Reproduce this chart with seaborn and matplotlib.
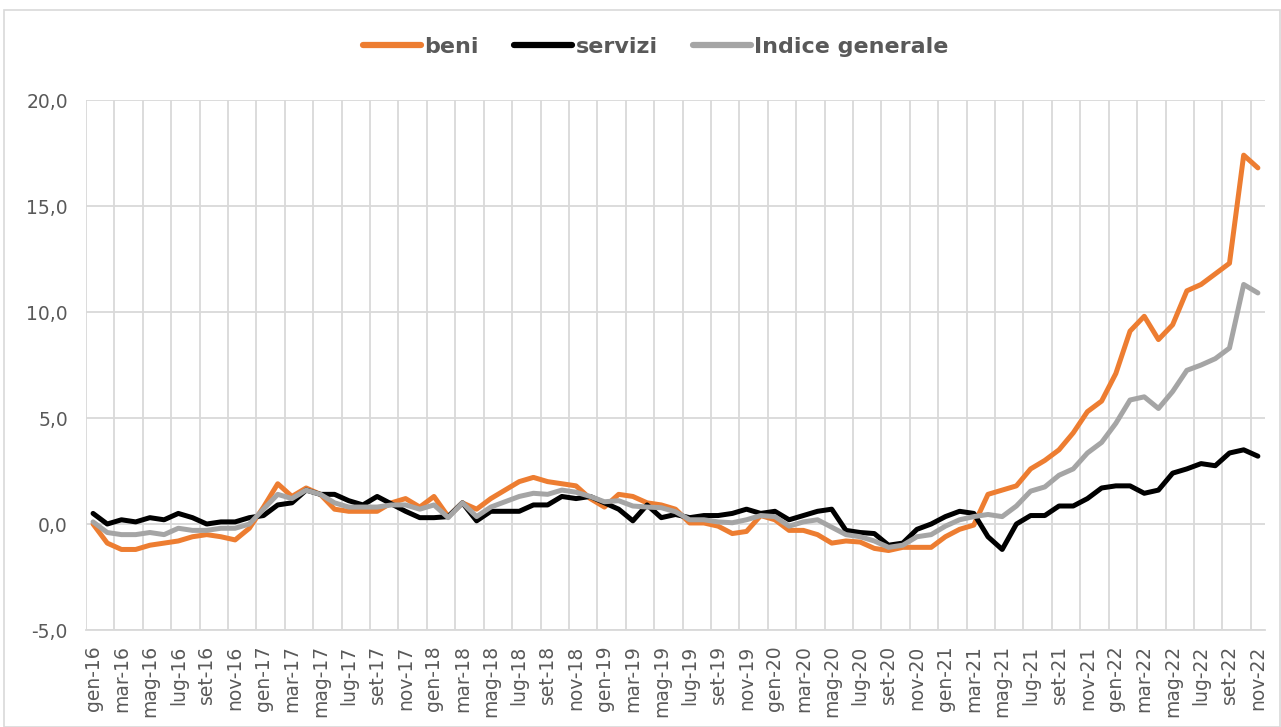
import numpy as np
import pandas as pd
import matplotlib
matplotlib.use("Agg")
import matplotlib.pyplot as plt
import seaborn as sns
from matplotlib.ticker import FixedLocator, FuncFormatter

# monthly labels gen-16 .. nov-22
mesi = ["gen", "feb", "mar", "apr", "mag", "giu", "lug", "ago", "set", "ott", "nov", "dic"]
periodi = [f"{m}-{a}" for a in range(16, 23) for m in mesi][:83]

beni = [0.0, -0.9, -1.2, -1.2, -1.0, -0.9, -0.8, -0.6, -0.5, -0.6, -0.75, -0.2,
        0.8, 1.9, 1.3, 1.7, 1.4, 0.7, 0.6, 0.6, 0.6, 1.0, 1.2, 0.8,
        1.3, 0.35, 1.0, 0.7, 1.2, 1.6, 2.0, 2.2, 2.0, 1.9, 1.8, 1.2,
        0.8, 1.4, 1.3, 1.0, 0.9, 0.7, 0.05, 0.05, -0.1, -0.45, -0.35, 0.4,
        0.2, -0.3, -0.3, -0.5, -0.9, -0.8, -0.85, -1.15, -1.25, -1.1, -1.1, -1.1,
        -0.6, -0.25, -0.05, 1.4, 1.6, 1.8, 2.6, 3.0, 3.5, 4.3, 5.3, 5.8,
        7.1, 9.1, 9.8, 8.7, 9.4, 11.0, 11.3, 11.8, 12.3, 17.4, 16.8]

servizi = [0.5, 0.0, 0.2, 0.1, 0.3, 0.2, 0.5, 0.3, 0.0, 0.1, 0.1, 0.3,
           0.4, 0.9, 1.0, 1.6, 1.4, 1.4, 1.1, 0.9, 1.3, 0.95, 0.6, 0.3,
           0.3, 0.35, 1.0, 0.15, 0.6, 0.6, 0.6, 0.9, 0.9, 1.3, 1.2, 1.3,
           1.0, 0.7, 0.15, 0.9, 0.3, 0.45, 0.3, 0.4, 0.4, 0.5, 0.7, 0.5,
           0.6, 0.2, 0.4, 0.6, 0.7, -0.3, -0.4, -0.45, -1.0, -0.9, -0.25, 0.0,
           0.35, 0.6, 0.5, -0.6, -1.2, 0.0, 0.4, 0.4, 0.85, 0.85, 1.2, 1.7,
           1.8, 1.8, 1.45, 1.6, 2.4, 2.6, 2.85, 2.75, 3.35, 3.5, 3.2]

indice = [0.1, -0.4, -0.5, -0.5, -0.4, -0.5, -0.2, -0.3, -0.3, -0.2, -0.2, 0.0,
          0.7, 1.4, 1.2, 1.6, 1.4, 1.0, 0.8, 0.8, 0.8, 0.9, 0.9, 0.7,
          0.9, 0.3, 1.0, 0.35, 0.8, 1.05, 1.3, 1.45, 1.4, 1.6, 1.5, 1.3,
          1.05, 1.1, 0.85, 0.8, 0.77, 0.58, 0.2, 0.2, 0.1, 0.06, 0.2, 0.4,
          0.35, -0.1, 0.1, 0.2, -0.15, -0.5, -0.6, -0.8, -1.1, -1.0, -0.6, -0.5,
          -0.1, 0.2, 0.35, 0.45, 0.35, 0.85, 1.55, 1.75, 2.3, 2.6, 3.35, 3.85,
          4.75, 5.85, 6.0, 5.45, 6.25, 7.25, 7.5, 7.8, 8.3, 11.3, 10.9]

serie = ["beni", "servizi", "Indice generale"]
colori = ["#ED7D31", "#000000", "#A5A5A5"]

df = pd.DataFrame({"pos": range(len(periodi)), "beni": beni,
                   "servizi": servizi, "Indice generale": indice})
long = df.melt(id_vars="pos", value_vars=serie, var_name="serie", value_name="valore")

sns.set_style("white")
plt.rcParams['font.family'] = ['DejaVu Sans']

fig = plt.figure(figsize=(12.81, 7.27), dpi=100)
ax = fig.add_axes([0.0671, 0.1334, 0.9204, 0.729])

sns.lineplot(data=long, x="pos", y="valore", hue="serie", hue_order=serie,
             palette=colori, linewidth=3.6, ax=ax, legend=False)

ax.set_xlim(-0.5, len(periodi) - 0.5)
ax.set_ylim(-5, 20)
ax.set_yticks([-5, 0, 5, 10, 15, 20])
ax.yaxis.set_major_formatter(FuncFormatter(lambda v, p: f"{v:.1f}".replace(".", ",")))

ax.set_xticks(range(0, len(periodi), 2))
ax.set_xticklabels(periodi[::2], rotation=90)
ax.xaxis.set_minor_locator(FixedLocator(np.arange(-0.5, len(periodi) - 1, 2)))

ax.grid(axis="y", which="major", color="#D9D9D9", linewidth=1.3)
ax.grid(axis="x", which="minor", color="#D9D9D9", linewidth=1.3)
ax.set_axisbelow(True)
ax.tick_params(axis="both", which="both", length=0, labelsize=13.5, labelcolor="#595959")
ax.tick_params(axis="x", pad=11)
ax.tick_params(axis="y", pad=13)
ax.set_xlabel("")
ax.set_ylabel("")
for s in ["top", "right", "left"]:
    ax.spines[s].set_visible(False)
ax.spines["bottom"].set_color("#D9D9D9")
ax.spines["bottom"].set_linewidth(1.3)

handles = [plt.Line2D([], [], color=c, linewidth=4.5, solid_capstyle="round") for c in colori]
leg = fig.legend(handles, serie, loc="center", bbox_to_anchor=(0.512, 0.935), ncol=3,
                 frameon=False, handlelength=2.6, handletextpad=0.15, columnspacing=1.6,
                 prop={"size": 16, "weight": "bold"})
for t in leg.get_texts():
    t.set_color("#595959")

fig.patches.append(plt.Rectangle((0.003, 0.0), 0.996, 0.986, transform=fig.transFigure,
                                 fill=False, edgecolor="#D9D9D9", linewidth=1.2))

fig.savefig("out.png", dpi=100)
